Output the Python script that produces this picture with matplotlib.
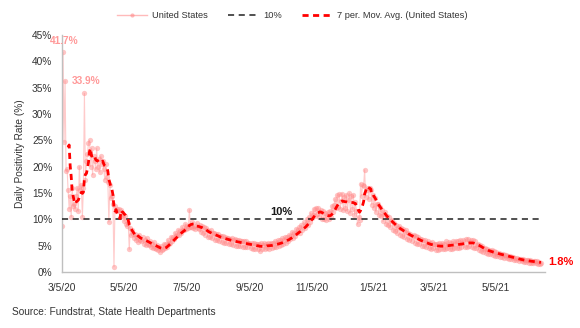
import matplotlib
matplotlib.use("Agg")
import matplotlib.pyplot as plt
from matplotlib.lines import Line2D
import pandas as pd

plt.rcParams['font.family'] = ['Liberation Sans', 'DejaVu Sans']

start_date = "2020-03-05"
# Daily positivity rate (%) for the United States, one value per day from 3/5/20
us_daily = [
    8.7, 41.7, 24.6, 36.3, 19.2, 19.5, 15.5, 12.0, 14.5, 10.5,
    16.0, 12.5, 13.0, 12.0, 14.5, 16.0, 11.5, 20.0, 15.5, 16.5,
    10.5, 16.0, 33.9, 17.5, 21.0, 22.5, 24.5, 25.0, 20.0, 23.5,
    18.5, 22.0, 21.0, 19.5, 23.5, 20.0, 21.5, 19.0, 22.0, 20.5,
    21.0, 19.5, 17.5, 20.5, 18.0, 17.0, 9.5, 16.5, 14.0, 14.5,
    13.0, 1.0, 12.5, 11.5, 12.0, 11.5, 12.0, 10.5,
    11.8, 10.6, 11.0, 9.6, 10.6, 9.2, 8.7,
    9.3, 4.3, 8.4, 7.0, 8.0, 7.2, 6.5,
    7.3, 6.0, 6.7, 5.7, 7.1, 6.0, 5.8,
    6.6, 5.4, 6.1, 5.1, 6.5, 5.3, 5.1,
    5.9, 4.8, 5.3, 4.5, 5.7, 4.6, 4.4,
    5.2, 4.1, 4.7, 3.8, 4.9, 4.1, 4.3,
    5.4, 4.5, 5.3, 4.7, 6.1, 5.4, 5.6,
    6.7, 5.8, 6.6, 6.2, 7.5, 6.8, 7.0,
    8.0, 7.1, 7.8, 7.5, 8.6, 7.9, 8.0,
    9.1, 8.1, 8.8, 8.4, 11.8, 8.6, 8.5,
    9.4, 8.3, 8.8, 8.2, 9.3, 8.4, 8.2,
    9.0, 7.6, 8.7, 7.4, 8.5, 7.1, 8.3,
    7.9, 6.6, 7.8, 6.7, 7.9, 6.4, 7.4,
    7.5, 6.1, 7.2, 6.0, 7.3, 5.9, 6.9,
    6.9, 5.7, 6.8, 5.6, 6.7, 5.5, 6.5,
    6.5, 5.4, 6.3, 5.3, 6.4, 5.2, 6.1,
    6.2, 5.0, 6.0, 5.0, 6.1, 4.9, 5.8,
    5.9, 4.8, 5.8, 4.7, 5.8, 4.7, 5.6,
    5.6, 4.5, 5.5, 4.4, 5.5, 4.4, 5.3,
    5.4, 4.3, 5.4, 3.9, 5.5, 4.3, 5.2,
    5.5, 4.4, 5.3, 4.5, 5.6, 4.4, 5.3,
    5.6, 4.6, 5.6, 4.8, 5.9, 4.7, 5.5,
    6.0, 5.0, 6.0, 5.2, 6.4, 5.3, 6.1,
    6.6, 5.5, 6.6, 5.9, 7.1, 6.3, 6.9,
    7.6, 6.5, 7.5, 6.8, 8.2, 7.4, 8.0,
    8.6, 7.5, 8.9, 7.9, 9.4, 8.3, 9.1,
    10.1, 8.9, 10.4, 9.5, 11.2, 10.2, 10.8,
    12.0, 10.6, 12.2, 11.0, 12.1, 10.5, 11.4,
    11.8, 10.1, 11.5, 10.0, 11.2, 9.9, 10.8,
    11.4, 10.0, 11.6, 10.5, 12.6, 11.3, 12.8,
    13.9, 12.2, 14.6, 12.4, 14.8, 12.0, 13.5,
    14.9, 11.8, 14.3, 12.1, 14.7, 11.5, 13.6,
    15.0, 11.2, 14.4, 11.9, 14.6, 10.8, 13.2,
    11.5, 9.1, 10.5, 9.8, 16.8, 14.5, 16.5,
    16.4, 19.4, 14.2, 15.5, 16.0, 13.8, 16.0,
    15.5, 12.8, 14.6, 12.2, 14.0, 11.4, 12.9,
    13.0, 10.8, 12.4, 10.6, 11.8, 9.6, 11.0,
    11.3, 9.2, 10.6, 8.9, 10.4, 8.5, 9.6,
    9.9, 8.0, 9.3, 7.7, 9.0, 7.4, 8.4,
    8.8, 7.1, 8.3, 6.9, 8.1, 6.6, 7.6,
    7.9, 6.2, 7.4, 6.1, 7.3, 5.9, 6.9,
    7.0, 5.6, 6.8, 5.4, 6.6, 5.3, 6.2,
    6.3, 5.0, 6.1, 4.9, 6.0, 4.8, 5.6,
    5.8, 4.5, 5.6, 4.4, 5.7, 4.5, 5.3,
    5.4, 4.2, 5.3, 4.2, 5.6, 4.4, 5.1,
    5.5, 4.3, 5.4, 4.3, 5.8, 4.5, 5.2,
    5.7, 4.4, 5.6, 4.4, 5.9, 4.6, 5.3,
    5.9, 4.6, 5.8, 4.6, 6.1, 4.8, 5.5,
    6.1, 4.7, 6.2, 4.8, 6.3, 4.9, 5.7,
    6.1, 4.8, 6.0, 4.6, 5.8, 4.5, 5.2,
    5.4, 4.2, 5.1, 4.0, 4.9, 3.8, 4.4,
    4.6, 3.6, 4.3, 3.5, 4.2, 3.4, 3.9,
    4.1, 3.2, 3.9, 3.1, 3.8, 3.0, 3.5,
    3.7, 2.9, 3.5, 2.8, 3.4, 2.7, 3.2,
    3.3, 2.6, 3.1, 2.5, 3.0, 2.4, 2.8,
    2.9, 2.3, 2.7, 2.2, 2.6, 2.1, 2.5,
    2.5, 2.0, 2.4, 1.9, 2.3, 1.9, 2.2,
    2.3, 1.8, 2.2, 1.8, 2.1, 1.7, 2.0,
    2.1, 1.7, 2.0, 1.6, 1.9, 1.6, 1.8,
]
threshold = 10.0
tick_dates = ["2020-03-05", "2020-05-05", "2020-07-05", "2020-09-05",
              "2020-11-05", "2021-01-05", "2021-03-05", "2021-05-05"]
tick_labels = ["3/5/20", "5/5/20", "7/5/20", "9/5/20", "11/5/20", "1/5/21", "3/5/21", "5/5/21"]
y_ticks = [0, 5, 10, 15, 20, 25, 30, 35, 40, 45]

dates = pd.date_range(start_date, periods=len(us_daily), freq="D")
s = pd.Series(us_daily, index=dates)
ma7 = s.rolling(7).mean()

FS = 7.3
fig = plt.figure(figsize=(5.8, 3.28), dpi=100)
ax = fig.add_axes([62/580, 56/328, (545-62)/580, (272-35)/328])

daily_col = "#FF8C8C"
ax.plot(dates, s.values, color=daily_col, lw=0.8, alpha=0.45, zorder=2)
ax.plot(dates, s.values, ls="none", marker="o", ms=3.8, mfc=daily_col, mec="none", alpha=0.5, zorder=2)
ax.plot([dates[0], dates[-1]], [threshold, threshold], color="#202020", lw=1.1, ls=(0, (4, 3)), zorder=3)
ax.plot(dates, ma7.values, color="#FF0000", lw=2.0, ls=(0, (2.2, 1.6)), zorder=4)

ax.set_xlim(pd.Timestamp("2020-03-05"), pd.Timestamp("2021-06-22"))
ax.set_ylim(0, 45)
ax.set_yticks(y_ticks)
ax.set_yticklabels([f"{v}%" for v in y_ticks])
ax.set_xticks([pd.Timestamp(t) for t in tick_dates])
ax.set_xticklabels(tick_labels)
ax.tick_params(length=0, labelsize=FS, colors="#333333")
ax.tick_params(axis="y", pad=7)
ax.tick_params(axis="x", pad=8)
for sp in ["top", "right"]:
    ax.spines[sp].set_visible(False)
for sp in ["left", "bottom"]:
    ax.spines[sp].set_color("#BFBFBF")
    ax.spines[sp].set_linewidth(1.0)
ax.set_ylabel("Daily Positivity Rate (%)", fontsize=FS, color="#333333", labelpad=5)

# data labels
i_max = int(s.values.argmax())
ax.annotate(f"{s.values[i_max]:.1f}%", (dates[i_max], s.values[i_max]), xytext=(1, 8),
            textcoords="offset points", ha="center", va="center", color="#FF9999",
            fontsize=FS, fontweight="bold")
i2 = 22
ax.annotate(f"{s.values[i2]:.1f}%", (dates[i2], s.values[i2]), xytext=(1, 9),
            textcoords="offset points", ha="center", va="center", color="#FF9999",
            fontsize=FS, fontweight="bold")
ax.text(pd.Timestamp("2020-10-06"), threshold + 1.4, f"{threshold:.0f}%", ha="center", va="center",
        fontsize=8, fontweight="bold", color="#1a1a1a")
ax.annotate(f"{ma7.values[-1]:.1f}%", (dates[-1], ma7.values[-1]), xytext=(5, 0),
            textcoords="offset points", ha="left", va="center", color="#FF0000",
            fontsize=8, fontweight="bold", annotation_clip=False)

handles = [
    Line2D([], [], color=daily_col, lw=1, alpha=0.6, marker="o", ms=3, mec="none"),
    Line2D([], [], color="#202020", lw=1.1, ls=(0, (4, 3))),
    Line2D([], [], color="#FF0000", lw=2.0, ls=(0, (2.2, 1.6))),
]
fig.legend(handles, ["United States", "10%", "7 per. Mov. Avg. (United States)"],
           loc="center", bbox_to_anchor=(292/580, 1 - 16/328), ncol=3, frameon=False,
           fontsize=6.7, handlelength=3.3, columnspacing=2.2, handletextpad=0.45,
           labelcolor="#333333")

fig.text(12/580, 1 - 312/328, "Source: Fundstrat, State Health Departments", fontsize=FS,
         color="#333333", ha="left", va="center")

fig.savefig("out.png", dpi=100)
